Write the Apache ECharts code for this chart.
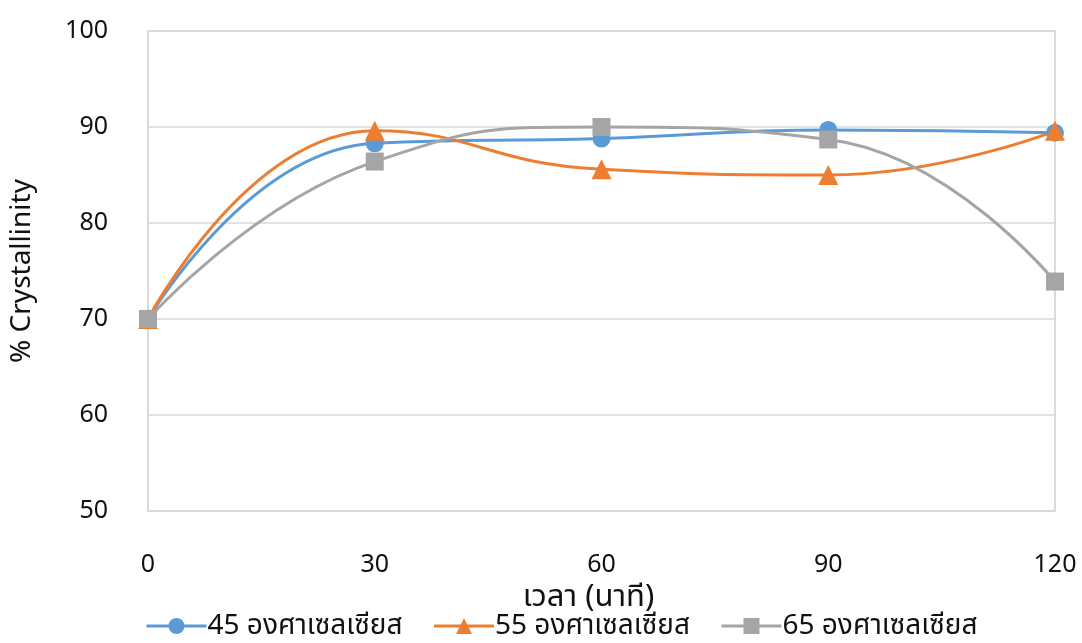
<!DOCTYPE html>
<html><head><meta charset="utf-8">
<script src="https://cdn.jsdelivr.net/npm/echarts@6/dist/echarts.min.js"></script>
<style>html,body{margin:0;padding:0;background:#fff}#c{width:1082px;height:643px}</style>
</head><body><div id="c"></div>
<script>
const times = [0, 30, 60, 90, 120];
const s45 = [70, 88.3, 88.8, 89.7, 89.4];
const s55 = [70, 89.6, 85.6, 85.0, 89.6];
const s65 = [70, 86.4, 90.0, 88.7, 73.9];
const names = ['45 องศาเซลเซียส', '55 องศาเซลเซียส', '65 องศาเซลเซียส'];
const colors = ['#5B9BD5', '#ED7D31', '#A5A5A5'];
const symbols = ['circle', 'triangle', 'rect'];
const font = '"Noto Sans", "Noto Sans Thai", sans-serif';
const pair = arr => times.map((t, i) => [t, arr[i]]);
const chart = echarts.init(document.getElementById('c'));
chart.setOption({
  animation: false,
  textStyle: {fontFamily: font},
  grid: {left: 146, right: 27, top: 31, bottom: 132, show: true, borderColor: '#d0d0d0', borderWidth: 1.5},
  legend: {
    bottom: -2, left: 140, itemGap: 30, itemWidth: 60, itemHeight: 20,
    lineStyle: {width: 3},
    textStyle: {fontSize: 28, color: '#111', fontFamily: font, padding: [0, 0, 0, -4]},
    data: names
  },
  xAxis: {
    type: 'value', min: 0, max: 120, interval: 30,
    name: 'เวลา (นาที)', nameLocation: 'middle', nameGap: 66,
    nameTextStyle: {fontSize: 31, color: '#111', padding: [0, 26, 0, 0]},
    axisLine: {show: false}, axisTick: {show: false}, splitLine: {show: false},
    axisLabel: {fontSize: 25, color: '#111', margin: 41}
  },
  yAxis: {
    type: 'value', min: 50, max: 100, interval: 10,
    name: '% Crystallinity', nameLocation: 'middle', nameGap: 112, nameRotate: 90,
    nameTextStyle: {fontSize: 28, color: '#111'},
    axisLine: {show: false}, axisTick: {show: false},
    splitLine: {lineStyle: {color: '#d9d9d9', width: 1.5}},
    axisLabel: {fontSize: 25, color: '#111', margin: 40}
  },
  series: [s45, s55, s65].map((arr, i) => ({
    name: names[i], type: 'line', smooth: 0.5,
    data: pair(arr),
    symbol: symbols[i], symbolSize: i === 1 ? 20 : 18,
    itemStyle: {color: colors[i]},
    lineStyle: {color: colors[i], width: 3}
  }))
});
</script></body></html>
